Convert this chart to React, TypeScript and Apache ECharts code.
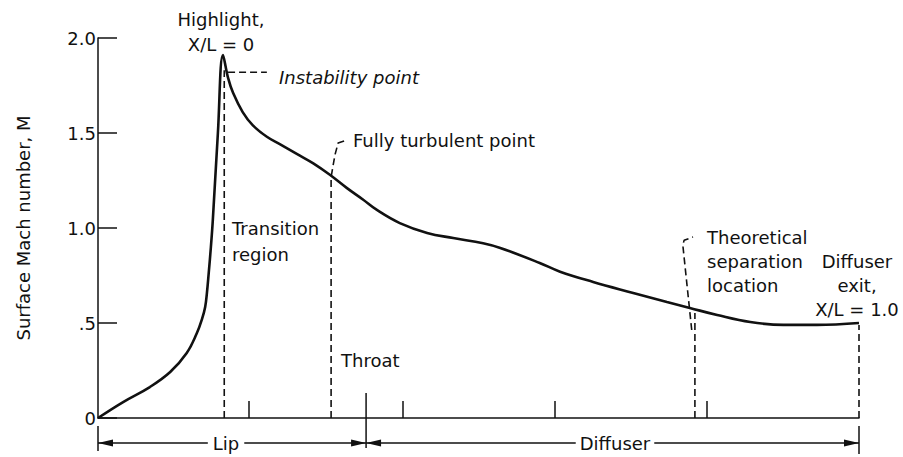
import React, { useEffect, useRef } from "react";
import * as echarts from "echarts";

// X/L positions (highlight = 0, diffuser exit = 1.0) and surface Mach number
const xOverL = [-0.1965, -0.157, -0.115, -0.083, -0.057, -0.041, -0.033, -0.028, -0.0252, -0.0225, -0.019, -0.016, -0.008, 0, 0.008, 0.016, 0.031, 0.047, 0.069, 0.09, 0.116, 0.142, 0.168, 0.195, 0.22, 0.242, 0.278, 0.321, 0.362, 0.409, 0.436, 0.498, 0.53, 0.582, 0.645, 0.698, 0.734, 0.777, 0.829, 0.881, 0.934, 1.0];
const mach = [0, 0.084, 0.163, 0.242, 0.342, 0.447, 0.52, 0.584, 0.66, 0.76, 0.9, 1.04, 1.5, 1.91, 1.79, 1.71, 1.61, 1.54, 1.48, 1.44, 1.39, 1.34, 1.28, 1.21, 1.15, 1.095, 1.026, 0.974, 0.947, 0.92, 0.895, 0.816, 0.77, 0.716, 0.658, 0.61, 0.579, 0.542, 0.505, 0.49, 0.49, 0.5];

const yTickValues = [0, 0.5, 1.0, 1.5, 2.0];
const yTickLabels = ["0", ".5", "1.0", "1.5", "2.0"];
const xTickValues = [0.041, 0.283, 0.522, 0.761];
const throatX = 0.225;
const lipStart = -0.1965;
const diffuserEnd = 1.0;

// dashed leader lines [X/L, M]
const highlightLine = [[0.002, 0], [0.002, 1.83]];
const instabilityLeader = [[0.008, 1.82], [0.069, 1.82]];
const turbulentLeader = [[0.17, 0], [0.17, 1.268], [0.176, 1.384], [0.181, 1.447], [0.195, 1.463]];
const separationLine = [[0.742, 0], [0.742, 0.553]];
const separationLeader = [[0.737, 0.463], [0.723, 0.91], [0.725, 0.935], [0.739, 0.953]];
const exitLine = [[1.0, 0], [1.0, 0.49]];

const FONT = "'DejaVu Sans', sans-serif";
const FS = 18;
const INK = "#111";

export default function App() {
  const ref = useRef<HTMLDivElement>(null);
  useEffect(() => {
    if (!ref.current) return;
    const chart = echarts.init(ref.current, undefined, { renderer: "svg" });
    const dashed = (data: number[][]) => ({
      type: "line",
      data,
      symbol: "none",
      silent: true,
      lineStyle: { color: INK, width: 1.6, type: [7, 4] },
      z: 3,
    });
    chart.setOption({
      animation: false,
      backgroundColor: "#fff",
      grid: { left: 98, right: 44, top: 38, bottom: 39 },
      xAxis: {
        type: "value",
        min: lipStart,
        max: diffuserEnd,
        axisLine: { show: true, onZero: false, lineStyle: { color: INK, width: 1.5 } },
        axisTick: { show: true, inside: true, length: 17, customValues: xTickValues, lineStyle: { color: INK, width: 1.5 } },
        axisLabel: { show: false },
        splitLine: { show: false },
      },
      yAxis: {
        type: "value",
        min: 0,
        max: 2,
        interval: 0.5,
        name: "Surface Mach number, M",
        nameLocation: "middle",
        nameGap: 66,
        nameTextStyle: { fontFamily: FONT, fontSize: FS, color: INK },
        axisLine: { show: true, onZero: false, lineStyle: { color: INK, width: 1.5 } },
        axisTick: { show: true, inside: true, length: 19, lineStyle: { color: INK, width: 1.5 } },
        axisLabel: {
          margin: 2,
          fontFamily: FONT,
          fontSize: FS,
          color: INK,
          formatter: (v: number) => {
            const i = yTickValues.indexOf(v);
            return i >= 0 ? yTickLabels[i] : "";
          },
        },
        splitLine: { show: false },
      },
      series: [
        {
          type: "line",
          data: xOverL.map((x, i) => [x, mach[i]]),
          symbol: "none",
          smooth: 0.4,
          lineStyle: { color: INK, width: 2.6 },
          z: 4,
        },
        dashed(highlightLine),
        dashed(instabilityLeader),
        dashed(turbulentLeader),
        dashed(separationLine),
        dashed(separationLeader),
        dashed(exitLine),
      ],
    });

    const px = (x: number, y: number) => chart.convertToPixel({ gridIndex: 0 }, [x, y]) as number[];
    const base = px(0, 0)[1];
    const dimY = base + 25;
    const xs = px(lipStart, 0)[0];
    const xt = px(throatX, 0)[0];
    const xe = px(diffuserEnd, 0)[0];
    const lineS = { stroke: INK, lineWidth: 1.5 };
    const arrow = (tipX: number, dir: number) => ({
      type: "polygon",
      shape: { points: [[tipX, dimY], [tipX - dir * 15, dimY - 3.5], [tipX - dir * 15, dimY + 3.5]] },
      style: { fill: INK },
    });
    const txt = (text: string, x: number, y: number, extra: any = {}) => ({
      type: "text",
      x,
      y,
      style: { text, fontFamily: FONT, fontSize: FS, fill: INK, verticalAlign: "middle", align: "left", ...extra },
    });
    chart.setOption({
      graphic: [
        { type: "line", shape: { x1: xs, y1: base + 8, x2: xs, y2: base + 33 }, style: lineS },
        { type: "line", shape: { x1: xt, y1: base - 25, x2: xt, y2: base + 30 }, style: lineS },
        { type: "line", shape: { x1: xe, y1: base + 8, x2: xe, y2: base + 36 }, style: lineS },
        { type: "line", shape: { x1: xs, y1: dimY, x2: xt, y2: dimY }, style: lineS },
        { type: "line", shape: { x1: xt, y1: dimY, x2: xe, y2: dimY }, style: lineS },
        arrow(xs, -1),
        arrow(xt, 1),
        arrow(xt, -1),
        arrow(xe, 1),
        txt("Lip", (xs + xt) / 2 - 6, dimY, { align: "center", backgroundColor: "#fff", padding: [0, 5] }),
        txt("Diffuser", 615, dimY, { align: "center", backgroundColor: "#fff", padding: [0, 4] }),
        txt("Highlight,\nX/L = 0", 221, 32, { align: "center", lineHeight: 25 }),
        txt("Instability point", 279, 77, { fontStyle: "italic" }),
        txt("Fully turbulent point", 353, 140),
        txt("Transition\nregion", 232, 241, { lineHeight: 26 }),
        txt("Throat", 341, 360),
        txt("Theoretical\nseparation\nlocation", 707, 261, { lineHeight: 24 }),
        txt("Diffuser\nexit,\nX/L = 1.0", 857, 285, { align: "center", lineHeight: 24 }),
      ],
    });
    return () => chart.dispose();
  }, []);
  return <div ref={ref} style={{ position: "fixed", left: 0, top: 0, width: 903, height: 457 }} />;
}
